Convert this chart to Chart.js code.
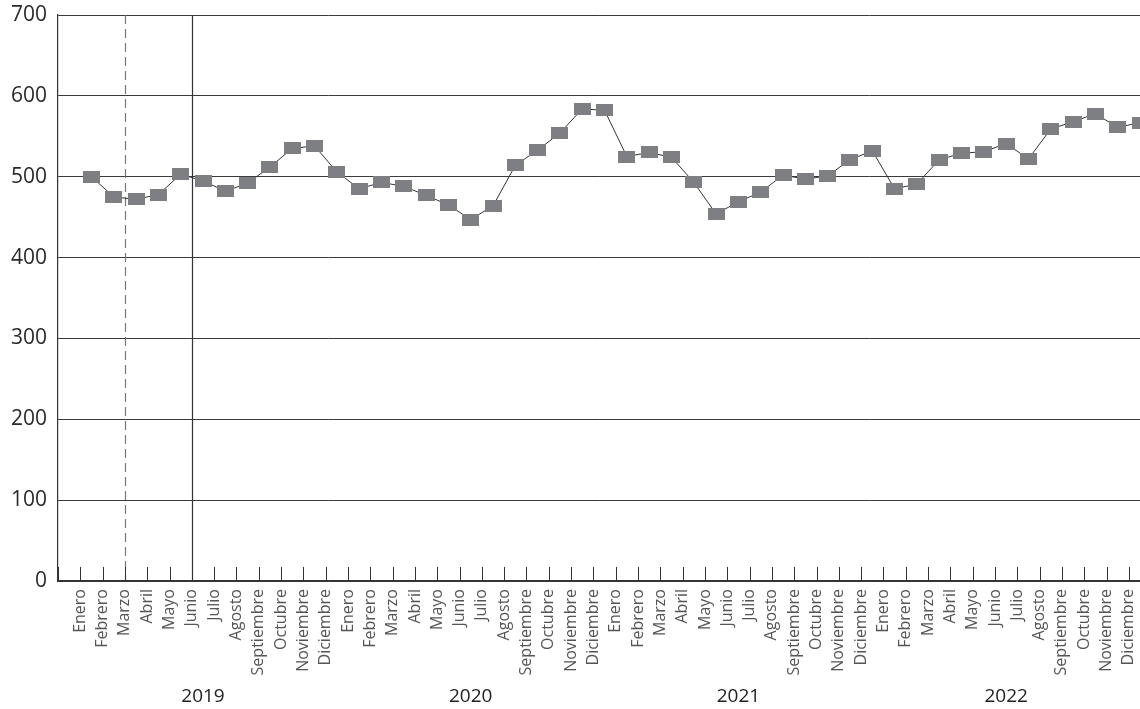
<!DOCTYPE html>
<html>
<head>
<meta charset="utf-8">
<script src="https://cdn.jsdelivr.net/npm/chart.js@4/dist/chart.umd.min.js"></script>
<style>
  html, body { margin: 0; padding: 0; background: #fff; overflow: hidden; }
  #wrap { width: 1140px; height: 709px; position: relative; }
</style>
</head>
<body>
<div id="wrap"><canvas id="myChart"></canvas></div>
<script>
// Monthly series, January 2019 to December 2022

const months = ['Enero', 'Febrero', 'Marzo', 'Abril', 'Mayo', 'Junio', 'Julio',
    'Agosto', 'Septiembre', 'Octubre', 'Noviembre', 'Diciembre'];
const years = ['2019', '2020', '2021', '2022'];

const values2019 = [500, 475, 472, 478, 503, 495, 482, 492, 512, 535, 538, 506];
const values2020 = [485, 493, 488, 477, 465, 447, 464, 514, 533, 554, 584, 582];
const values2021 = [525, 530, 524, 493, 454, 469, 481, 502, 497, 501, 521, 532];
const values2022 = [485, 491, 521, 529, 531, 541, 522, 559, 568, 578, 561, 567];

const yTicks = [0, 100, 200, 300, 400, 500, 600, 700];

const allValues = [].concat(values2019, values2020, values2021, values2022);
// each point sits half a step after its month tick
const points = allValues.map((v, i) => ({ x: i + 1.5, y: v }));

// grey rectangle marker
const marker = document.createElement('canvas');
marker.width = 17;
marker.height = 12;
const mctx = marker.getContext('2d');
mctx.fillStyle = '#7e7f83';
mctx.fillRect(0, 0, 17, 12);

const fontName = "'Open Sans', sans-serif";

const extras = {
    id: 'extras',
    beforeDatasetsDraw(chart) {
        const { ctx, chartArea, scales } = chart;
        const x = scales.x;
        ctx.save();
        // dashed marker line at Marzo 2019
        ctx.strokeStyle = '#777';
        ctx.lineWidth = 1.2;
        ctx.setLineDash([9, 5]);
        let px = Math.round(x.getPixelForValue(3)) + 0.5;
        ctx.beginPath();
        ctx.moveTo(px, chartArea.top);
        ctx.lineTo(px, chartArea.bottom);
        ctx.stroke();
        // solid line at Junio 2019
        ctx.setLineDash([]);
        ctx.strokeStyle = '#333';
        ctx.lineWidth = 1.2;
        px = Math.round(x.getPixelForValue(6)) + 0.5;
        ctx.beginPath();
        ctx.moveTo(px, chartArea.top);
        ctx.lineTo(px, chartArea.bottom);
        ctx.stroke();
        // inner tick marks on the x axis
        ctx.strokeStyle = '#333';
        ctx.lineWidth = 1;
        for (let k = 0; k <= 48; k++) {
            const tx = Math.round(x.getPixelForValue(k)) + 0.5;
            ctx.beginPath();
            ctx.moveTo(tx, chartArea.bottom);
            ctx.lineTo(tx, chartArea.bottom - 14);
            ctx.stroke();
        }
        ctx.restore();
    },
    afterDraw(chart) {
        const { ctx, scales } = chart;
        ctx.save();
        ctx.fillStyle = '#222';
        ctx.font = '19px ' + fontName;
        ctx.textAlign = 'center';
        ctx.textBaseline = 'middle';
        years.forEach((y, i) => {
            ctx.fillText(y, scales.x.getPixelForValue(6.5 + 12 * i), 697);
        });
        ctx.restore();
    }
};

const ctx = document.getElementById('myChart').getContext('2d');
const myChart = new Chart(ctx, {
    type: 'line',
    data: {
        datasets: [{
            data: points,
            borderColor: '#333',
            borderWidth: 1,
            backgroundColor: '#7e7f83',
            pointStyle: marker,
            pointRadius: 8,
            pointHoverRadius: 8,
            lineTension: 0,
            clip: false
        }]
    },
    options: {
        responsive: true,
        maintainAspectRatio: false,
        animation: false,
        layout: { autoPadding: false, padding: { top: 15, right: 0, left: 0, bottom: 0 } },
        scales: {
            x: {
                type: 'linear',
                min: 0,
                max: 48.5,
                afterBuildTicks(axis) {
                    axis.ticks = Array.from({ length: 49 }, (_, k) => ({ value: k }));
                },
                afterFit(axis) {
                    axis.height = 128;
                    axis.paddingLeft = 0;
                    axis.paddingRight = 0;
                },
                grid: { display: false, drawTicks: false },
                border: { display: true, color: '#333', width: 1.5 },
                ticks: {
                    autoSkip: false,
                    maxRotation: 90,
                    minRotation: 90,
                    padding: 8,
                    color: '#555',
                    font: { family: fontName, size: 16 },
                    callback: (value) => value >= 1 ? months[(value - 1) % 12] : ''
                }
            },
            y: {
                min: 0,
                max: 700,
                afterBuildTicks(axis) {
                    axis.ticks = yTicks.map(v => ({ value: v }));
                },
                afterFit(axis) {
                    axis.width = 58;
                    axis.paddingTop = 0;
                    axis.paddingBottom = 0;
                },
                grid: { color: '#3a3a3a', lineWidth: 1, drawTicks: false },
                border: { display: true, color: '#333', width: 1.2 },
                ticks: {
                    padding: 11,
                    color: '#2a2a2a',
                    font: { family: fontName, size: 21 }
                }
            }
        },
        plugins: {
            legend: { display: false },
            tooltip: { enabled: false }
        }
    },
    plugins: [extras]
});
</script>
</body>
</html>
